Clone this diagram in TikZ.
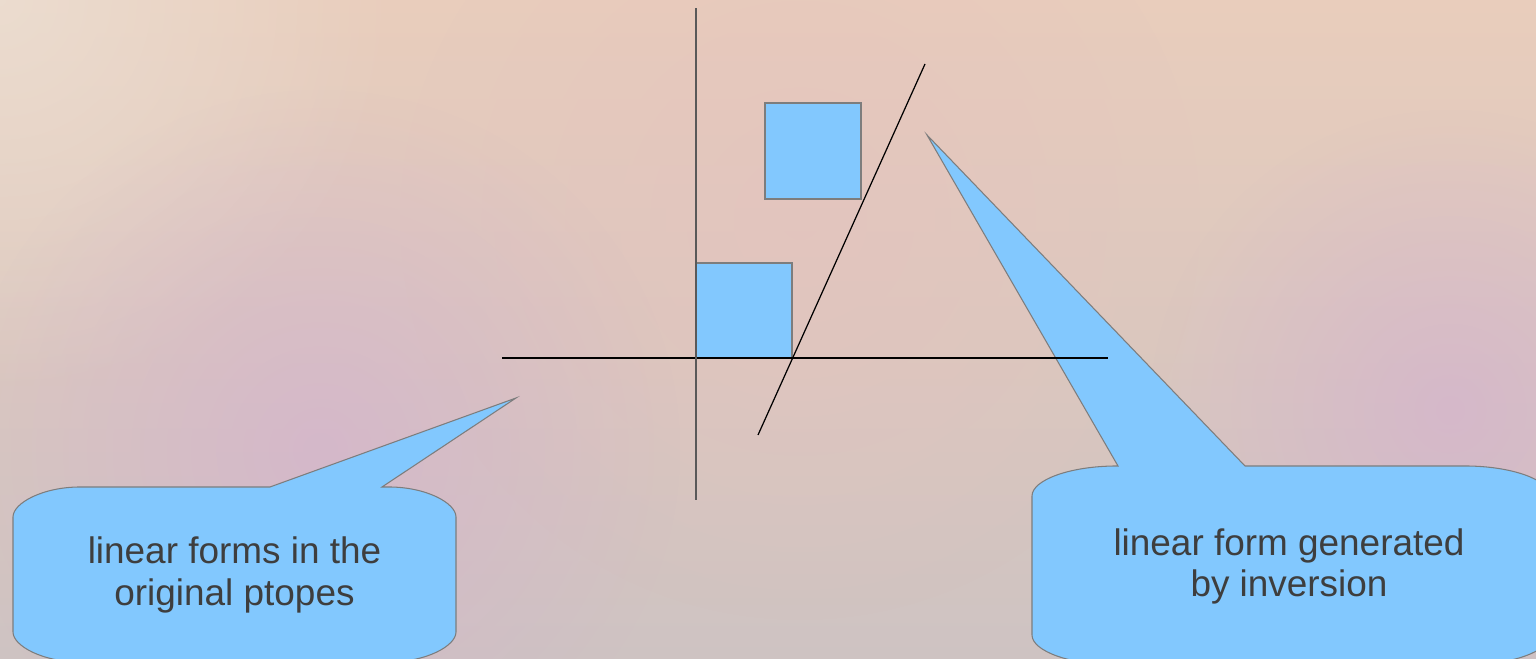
\documentclass[tikz,border=0pt]{standalone}
\usepackage{fontspec}
\setmainfont{Liberation Sans}
\usetikzlibrary{fadings}
\definecolor{bg-top}{RGB}{233,205,188}
\definecolor{bg-bottom}{RGB}{206,195,194}
\definecolor{bg-light}{RGB}{236,224,212}
\definecolor{bg-lilac}{RGB}{212,178,206}
\definecolor{bg-rose}{RGB}{229,194,190}
\definecolor{bubble-blue}{RGB}{130,200,254}
\definecolor{bubble-edge}{RGB}{125,125,125}
\definecolor{text-dark}{RGB}{62,62,62}
\tikzfading[name=glow out, inner color=transparent!0, outer color=transparent!100]

\begin{document}
\begin{tikzpicture}[
  x=0.01cm, y=-0.01cm,
  bubble/.style={fill=bubble-blue, draw=bubble-edge, line width=0.3pt},
  bubbletext/.style={align=center, inner sep=0pt, text=text-dark, font=\fontsize{10.5}{11.8}\selectfont},
  axis/.style={draw=black, line width=0.35pt},
]
  \useasboundingbox (0,0) rectangle (1536,659);
  \clip (0,0) rectangle (1536,659);

  % Background
  \shade[top color=bg-top, bottom color=bg-bottom] (0,0) rectangle (1536,659);
  \fill[bg-rose, path fading=glow out, opacity=.6] (800,220) circle[radius=4cm];
  \fill[bg-light, path fading=glow out, opacity=.8] (0,0) circle[radius=4cm];
  \fill[bg-lilac, path fading=glow out, opacity=.7] (320,450) circle[radius=3.6cm];
  \fill[bg-lilac, path fading=glow out, opacity=.7] (1450,410) circle[radius=3cm];

  % Callouts
  \path[bubble] (80,487) -- (270,487) -- (516,398) -- (382,487) -- (389,487)
    .. controls (426,487) and (456,503) .. (456,517) -- (456,632)
    .. controls (456,646) and (426,662) .. (389,662) -- (80,662)
    .. controls (43,662) and (13,646) .. (13,632) -- (13,517)
    .. controls (13,503) and (43,487) .. (80,487) -- cycle;
  \path[bubble] (1117,466) -- (1118,466) -- (927,135) -- (1245,466) -- (1465,466)
    .. controls (1512,466) and (1550,480) .. (1550,496) -- (1550,635)
    .. controls (1550,651) and (1512,665) .. (1465,665) -- (1117,665)
    .. controls (1070,665) and (1032,651) .. (1032,635) -- (1032,496)
    .. controls (1032,480) and (1070,466) .. (1117,466) -- cycle;

  % Squares
  \path[bubble] (696,263) rectangle (792,358);
  \path[bubble] (765,103) rectangle (861,199);

  % Axes and inverted form
  \coordinate (xl) at (502,358);
  \coordinate (xr) at (1108,358);
  \coordinate (yt) at (696,8);
  \coordinate (yb) at (696,500);
  \coordinate (fl) at (758,435);
  \coordinate (fu) at (925,64);
  \draw[axis] (xl) -- (xr);
  \draw[axis, draw=black!65, line width=0.5pt] (yb) -- (yt);
  \draw[axis] (fl) -- (fu);

  % Labels
  \node[bubbletext] (origtext) at (234.5,575) {linear forms in the\\original ptopes};
  \node[bubbletext] (invtext) at (1289,566.5) {linear form generated\\by inversion};
\end{tikzpicture}
\end{document}
